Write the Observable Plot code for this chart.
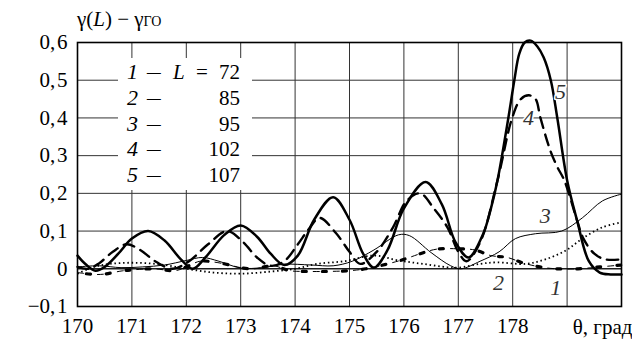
<!DOCTYPE html>
<html><head><meta charset="utf-8">
<script src="https://cdn.jsdelivr.net/npm/d3@7"></script>
<script src="https://cdn.jsdelivr.net/npm/@observablehq/plot@0.6"></script>
<style>
body{margin:0;background:#fff;}
#wrap{position:relative;width:632px;height:342px;}
#legend{position:absolute;left:118px;top:58px;width:134px;height:132px;background:#fff;font-family:"Liberation Serif","Times New Roman",serif;font-size:21px;color:#000;}
#legend .row{position:absolute;left:0;width:134px;height:26px;line-height:26px;}
#legend .num{position:absolute;left:9px;font-style:italic;font-size:22px;}
#legend .dash{position:absolute;left:29px;display:inline-block;transform:scaleX(1.3);transform-origin:left center;}
#legend .lab{position:absolute;left:55px;font-style:italic;}
#legend .eq{position:absolute;left:78px;}
#legend .val{position:absolute;right:12px;}
</style></head><body><div id="wrap"></div>
<script>
// ---- data ----
const legendNums = ["1", "2", "3", "4", "5"];
const legendL = [72, 85, 95, 102, 107];

// curve 5, L = 107 (thick solid)
const x5 = [170.0,170.15,170.33,170.5,170.75,171.0,171.3,171.6,171.9,172.12,172.35,172.7,173.0,173.3,173.55,173.8,174.05,174.35,174.7,175.0,175.25,175.45,175.7,176.0,176.4,176.7,176.95,177.19,177.45,177.6,177.72,177.92,178.03,178.12,178.22,178.33,178.45,178.57,178.7,178.82,179.0,179.18,179.4,179.6,179.8,180.0];
const y5 = [0.035,0.012,-0.005,0.005,0.04,0.08,0.10,0.075,0.025,0.0,0.03,0.09,0.115,0.085,0.04,0.01,0.035,0.13,0.19,0.13,0.04,0.003,0.05,0.16,0.23,0.17,0.07,0.03,0.09,0.16,0.234,0.40,0.50,0.57,0.60,0.605,0.59,0.56,0.50,0.40,0.235,0.13,0.02,-0.01,-0.015,-0.015];

// curve 4, L = 102 (heavy dashed)
const x4 = [170.0,170.2,170.4,170.65,170.9,171.15,171.45,171.75,172.05,172.4,172.75,173.05,173.3,173.55,173.8,174.05,174.25,174.45,174.75,175.0,175.2,175.5,175.8,176.05,176.3,176.55,176.8,177.0,177.15,177.4,177.72,177.99,178.15,178.3,178.42,178.51,178.7,178.82,178.95,179.18,179.3,179.5,179.7,180.0];
const y4 = [0.005,0.0,0.015,0.045,0.065,0.05,0.018,0.0,0.02,0.065,0.10,0.07,0.03,0.008,0.02,0.065,0.105,0.135,0.095,0.045,0.013,0.045,0.11,0.18,0.20,0.16,0.11,0.045,0.02,0.07,0.234,0.40,0.45,0.46,0.45,0.40,0.31,0.27,0.234,0.13,0.08,0.04,0.025,0.025];

// curve 3, L = 95 (thin solid)
const x3 = [170.0,170.4,170.8,171.2,171.6,172.0,172.3,172.6,173.0,173.4,173.8,174.3,174.7,175.05,175.45,175.9,176.1,176.5,176.86,177.05,177.4,177.75,178.05,178.42,178.9,179.28,179.65,180.0];
const y3 = [0.005,0.008,0.003,0.005,0.01,0.022,0.03,0.02,0.002,0.003,0.012,0.01,0.008,0.02,0.05,0.09,0.088,0.043,0.008,0.0,0.02,0.045,0.08,0.093,0.10,0.135,0.18,0.198];

// curve 2, L = 85 (dotted)
const x2 = [170.0,170.3,170.6,171.0,171.5,172.0,172.5,173.0,173.5,174.0,174.4,174.9,175.45,175.9,176.35,176.8,177.0,177.4,177.7,178.24,178.6,178.97,179.28,179.65,180.0];
const y2 = [-0.013,0.005,0.013,0.016,0.012,0.0,-0.01,-0.013,-0.008,0.0,0.013,0.02,0.035,0.022,0.013,0.004,0.003,0.013,0.017,0.013,0.025,0.048,0.08,0.11,0.123];

// curve 1, L = 72 (dash with squares)
const x1 = [170.0,170.3,170.5,170.8,171.0,171.4,171.8,172.0,172.25,172.5,172.8,173.0,173.25,173.6,173.9,174.2,174.6,175.0,175.3,175.7,176.0,176.3,176.6,177.0,177.3,177.6,177.9,178.2,178.5,178.8,179.2,179.6,180.0];
const y1 = [-0.01,-0.015,-0.014,-0.006,-0.003,0.0,-0.005,0.005,0.02,0.018,0.01,0.003,0.0,0.008,-0.005,-0.007,-0.007,-0.005,0.0,0.013,0.025,0.04,0.052,0.053,0.05,0.035,0.03,0.015,0.005,0.0,0.0,0.005,0.01];

// curve number labels
const labelText = ["1", "2", "3", "4", "5"];
const labelX = [178.79, 177.74, 178.6, 178.29, 178.88];
const labelY = [-0.052, -0.037, 0.141, 0.399, 0.468];

const xTicks = [170, 171, 172, 173, 174, 175, 176, 177, 178];
const xGrid = [171, 172, 173, 174, 175, 176, 177, 178, 179];
const yTicks = [-0.1, 0, 0.1, 0.2, 0.3, 0.4, 0.5, 0.6];

const pts = (xs, ys) => xs.map((x, i) => ({x, y: ys[i]}));
const c1 = pts(x1, y1), c2 = pts(x2, y2), c3 = pts(x3, y3), c4 = pts(x4, y4), c5 = pts(x5, y5);
const labels = labelText.map((t, i) => ({t, x: labelX[i], y: labelY[i]}));

const fmtY = d => d === 0 ? "0" : (d < 0 ? "\u2212" : "") + Math.abs(d).toFixed(1).replace(".", ",\u200A");

const SERIF = "'Liberation Serif','Times New Roman',serif";

const chart = Plot.plot({
  width: 632, height: 342,
  marginLeft: 77, marginRight: 11, marginTop: 42, marginBottom: 36,
  x: {domain: [170, 180]},
  y: {domain: [-0.1, 0.6]},
  style: {fontFamily: SERIF, fontSize: "21px", background: "white", color: "black", overflow: "visible"},
  marks: [
    Plot.gridX(xGrid, {stroke: "#333", strokeOpacity: 1, strokeWidth: 1}),
    Plot.gridY(yTicks, {stroke: "#333", strokeOpacity: 1, strokeWidth: 1}),
    Plot.ruleY([0], {stroke: "#000", strokeWidth: 1}),
    Plot.frame({stroke: "#000", strokeWidth: 1.6}),
    Plot.axisX(xTicks, {tickSize: 0, tickPadding: 12, label: null, fontSize: 21}),
    Plot.axisY(yTicks, {tickSize: 0, tickPadding: 10, label: null, tickFormat: fmtY, fontSize: 21}),
    Plot.text(["θ, град"], {frameAnchor: "bottom-right", text: d => d, textAnchor: "end", dx: 11, dy: 27, fontSize: 21}),
    // curve 2 dotted
    Plot.line(c2, {x: "x", y: "y", curve: "catmull-rom", stroke: "#000", strokeWidth: 1.8, strokeDasharray: "1.5,2.8", strokeLinecap: "butt"}),
    // curve 1: thin dashes + squares
    Plot.line(c1, {x: "x", y: "y", curve: "catmull-rom", stroke: "#000", strokeWidth: 1, strokeDasharray: "6,14"}),
    Plot.line(c1, {x: "x", y: "y", curve: "catmull-rom", stroke: "#000", strokeWidth: 3.2, strokeDasharray: "4,16", strokeDashoffset: -9}),
    // curve 3 thin solid
    Plot.line(c3, {x: "x", y: "y", curve: "catmull-rom", stroke: "#000", strokeWidth: 1}),
    // curve 4 dashed
    Plot.line(c4, {x: "x", y: "y", curve: "catmull-rom", stroke: "#000", strokeWidth: 2.4, strokeDasharray: "11,7"}),
    // curve 5 thick solid
    Plot.line(c5, {x: "x", y: "y", curve: "catmull-rom", stroke: "#000", strokeWidth: 2.5}),
    Plot.text(labels, {x: "x", y: "y", text: "t", fontFamily: SERIF, fontStyle: "italic", fontSize: 22, fill: "#333", stroke: "white", strokeWidth: 3})
  ]
});

const wrap = document.getElementById("wrap");
wrap.appendChild(chart);

// y-axis title
const svg = d3.select(chart);
const title = svg.append("text").attr("x", 77).attr("y", 26).attr("text-anchor", "start")
  .style("font-family", SERIF).style("font-size", "21px").attr("fill", "#000");
title.append("tspan").text("γ(");
title.append("tspan").style("font-style", "italic").text("L");
title.append("tspan").text(") \u2212 γ");
title.append("tspan").style("font-size", "14px").text("ГО");

// legend overlay
const legend = document.createElement("div");
legend.id = "legend";
legendNums.forEach((n, i) => {
  const row = document.createElement("div");
  row.className = "row";
  row.style.top = (1 + i * 25.75) + "px";
  row.innerHTML = `<span class="num">${n}</span><span class="dash">\u2013</span>` +
    (i === 0 ? `<span class="lab">L</span><span class="eq">=</span>` : "") +
    `<span class="val">${legendL[i]}</span>`;
  legend.appendChild(row);
});
wrap.appendChild(legend);
</script>
</body></html>
